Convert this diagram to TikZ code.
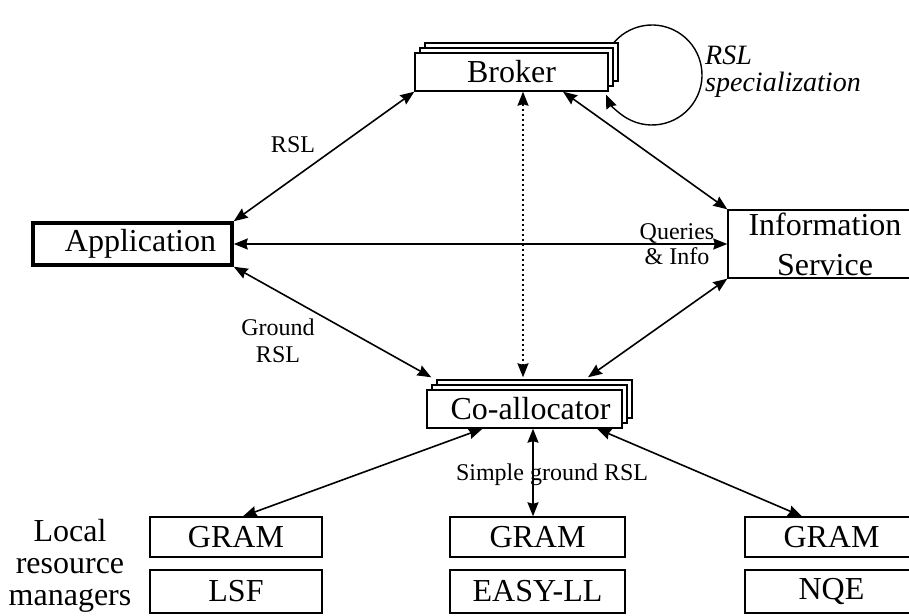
\documentclass[tikz,border=0pt]{standalone}
\usepackage{fontspec}
\setmainfont{Liberation Serif}
\usetikzlibrary{arrows.meta,shadows,calc}
\begin{document}
\begin{tikzpicture}[x=1pt,y=1pt,
  big/.style={font=\fontsize{32}{34}\selectfont},
  small/.style={font=\fontsize{24}{27}\selectfont},
  box/.style={draw, line width=1.4pt, fill=white, inner sep=0pt, big},
  stack/.style={box,
    copy shadow={shadow xshift=10pt, shadow yshift=10pt, draw, fill=white, line width=1.4pt},
    copy shadow={shadow xshift=5pt, shadow yshift=5pt, draw, fill=white, line width=1.4pt}},
  tip/.tip={Stealth[length=14pt,width=11pt,inset=1.5pt]},
  link/.style={line width=1.6pt, tip-tip},
  dotlink/.style={line width=1.6pt, dash pattern=on 2.5pt off 2.5pt, tip-tip},
]
\useasboundingbox (0,0) rectangle (909,615);
\clip (0,0) rectangle (909,615);
\fill[white] (0,0) rectangle (909,615);

% self loop (RSL specialization), drawn first so the broker box covers it
\coordinate (loopc) at (652,540);
\draw[line width=1.4pt, -tip] ($(loopc)+(150:50)$) arc[start angle=150, end angle=-157, radius=50];

% nodes
\node[stack, minimum width=193pt, minimum height=38pt] (broker) at (511.5,543) {Broker};
\node[stack, minimum width=195pt, minimum height=38pt] (co) at (524.5,206) {\hspace*{12pt}Co-allocator};
\node[box, line width=3.5pt, minimum width=199pt, minimum height=42pt] (app) at (132.5,371) {\hspace*{16pt}Application};
\node[box, minimum width=194pt, minimum height=68pt, align=center, font=\fontsize{32}{40}\selectfont] (info) at (825,371) {Information\\Service};

\node[box, minimum width=172pt, minimum height=40pt] (g1) at (236,78) {GRAM};
\node[box, minimum width=172pt, minimum height=43pt] (lsf) at (236,23.5) {LSF};
\node[box, minimum width=175pt, minimum height=40pt] (g2) at (537.5,78) {GRAM};
\node[box, minimum width=175pt, minimum height=43pt] (easy) at (537.5,23.5) {EASY-LL};
\node[box, minimum width=173pt, minimum height=40pt] (g3) at (831.5,78) {GRAM};
\node[box, minimum width=173pt, minimum height=43pt] (nqe) at (831.5,23.5) {NQE};

\node[align=center, inner sep=0pt, font=\fontsize{32}{32}\selectfont] (lrm) at (70,49) {Local\\resource\\managers};

% labels
\node[small, inner sep=0pt] (lrsl) at (293,470) {RSL};
\node[small, align=center, inner sep=0pt] (lground) at (278,274) {Ground\\RSL};
\node[small, align=center, inner sep=0pt, font=\fontsize{24}{25}\selectfont] (lq) at (677,371) {Queries\\\& Info};
\node[small, inner sep=0pt] (lsimple) at (552,140) {Simple ground RSL};
\node[align=left, anchor=west, inner sep=0pt, font=\fontsize{28}{27}\selectfont\itshape] (lspec) at (705,543.5) {RSL\\specialization};

% connectors
\draw[link] (app.north east) -- (broker.south west);
\draw[link] (app.east) -- (info.west);
\draw[link] (app.south east) -- ([shift={(5,12)}]co.north west);
\draw[link] ([xshift=51.5]broker.south) -- (info.north west);
\draw[link] ([shift={(63.5,12)}]co.north) -- (info.south west);
\draw[dotlink] ([xshift=11.5]broker.south) -- ([shift={(-1.5,12)}]co.north);
\draw[link] ([xshift=-42]co.south) -- ([xshift=7]g1.north);
\draw[link] ([xshift=8.5]co.south) -- ([xshift=-4.5]g2.north);
\draw[link] ([xshift=72.5]co.south) -- ([xshift=-29.5]g3.north);
\end{tikzpicture}
\end{document}
